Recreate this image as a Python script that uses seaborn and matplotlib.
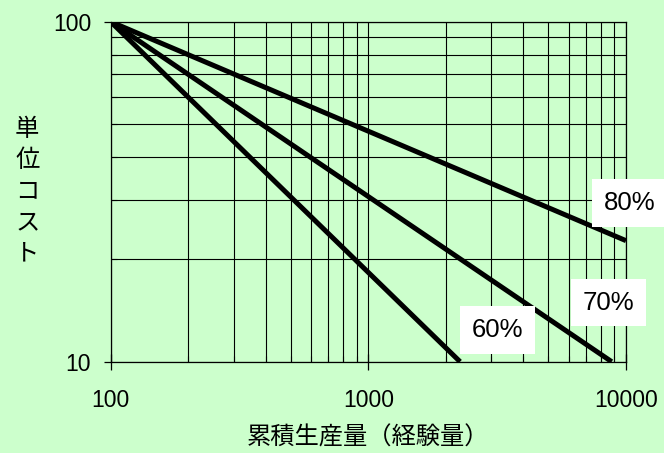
import matplotlib
matplotlib.use("Agg")
import matplotlib.pyplot as plt
from matplotlib.ticker import LogLocator, FixedLocator, NullFormatter
import seaborn as sns
import pandas as pd

# Learning curves: cumulative volume vs unit cost (log-log)
volume_80 = [100, 10000]
cost_80 = [100, 22.7]
volume_70 = [100, 8800]
cost_70 = [100, 10]
volume_60 = [100, 2270]
cost_60 = [100, 10]

curve_labels = ["80%", "70%", "60%"]
label_x = [10300, 8540, 3170]
label_y = [29.3, 14.9, 12.4]

x_ticks = [100, 1000, 10000]
x_tick_labels = ["100", "1000", "10000"]
y_ticks = [10, 100]
y_tick_labels = ["10", "100"]

x_title = "累積生産量（経験量）"
y_title = "単位コスト"

df = pd.concat([
    pd.DataFrame({"volume": volume_80, "cost": cost_80, "rate": "80%"}),
    pd.DataFrame({"volume": volume_70, "cost": cost_70, "rate": "70%"}),
    pd.DataFrame({"volume": volume_60, "cost": cost_60, "rate": "60%"}),
])

sns.set_theme(style="ticks")
plt.rcParams["font.family"] = ["Noto Sans CJK JP", "DejaVu Sans"]
num_font = ["Liberation Sans", "DejaVu Sans"]

bg = "#CCFFCC"
fig = plt.figure(figsize=(6.64, 4.53), dpi=100, facecolor=bg)
ax = fig.add_axes([0.1667, 0.2015, 0.7761, 0.7505])
ax.set_facecolor(bg)

sns.lineplot(data=df, x="volume", y="cost", units="rate", estimator=None,
             color="black", linewidth=3.6, solid_capstyle="butt",
             legend=False, ax=ax, zorder=3)

ax.set_xscale("log")
ax.set_yscale("log")
ax.set_xlim(100, 10000)
ax.set_ylim(10, 100)

ax.xaxis.set_major_locator(FixedLocator(x_ticks))
ax.set_xticklabels(x_tick_labels, family=num_font)
ax.yaxis.set_major_locator(FixedLocator(y_ticks))
ax.set_yticklabels(y_tick_labels, family=num_font)
ax.xaxis.set_minor_locator(LogLocator(base=10, subs=range(2, 10)))
ax.yaxis.set_minor_locator(LogLocator(base=10, subs=range(2, 10)))
ax.xaxis.set_minor_formatter(NullFormatter())
ax.yaxis.set_minor_formatter(NullFormatter())

ax.grid(True, which="both", color="black", linewidth=0.8, zorder=1)
ax.set_axisbelow(True)

for side in ["left", "bottom", "top", "right"]:
    ax.spines[side].set_color("black")
    ax.spines[side].set_linewidth(0.9)

ax.tick_params(axis="y", which="major", direction="out", length=5, width=0.9,
               labelsize=16.5, pad=9, colors="black")
ax.tick_params(axis="x", which="major", direction="inout", length=11, width=0.9,
               labelsize=16.5, pad=14, colors="black")
ax.tick_params(which="minor", direction="in", length=4, width=0.8, colors="black")

ax.set_xlabel(x_title, fontsize=17.5, color="black", labelpad=9)
ax.set_ylabel("")
fig.text(0.041, 0.578, "\n".join(y_title), fontsize=17.5, color="black",
         ha="center", va="center", linespacing=1.25)

for text, lx, ly in zip(curve_labels, label_x, label_y):
    ax.text(lx, ly, text, fontsize=18.5, family=num_font, color="black",
            ha="center", va="center", zorder=5, clip_on=False,
            bbox=dict(boxstyle="square,pad=0.45", fc="white", ec="none"))

fig.savefig("out.png", dpi=100, facecolor=bg)
